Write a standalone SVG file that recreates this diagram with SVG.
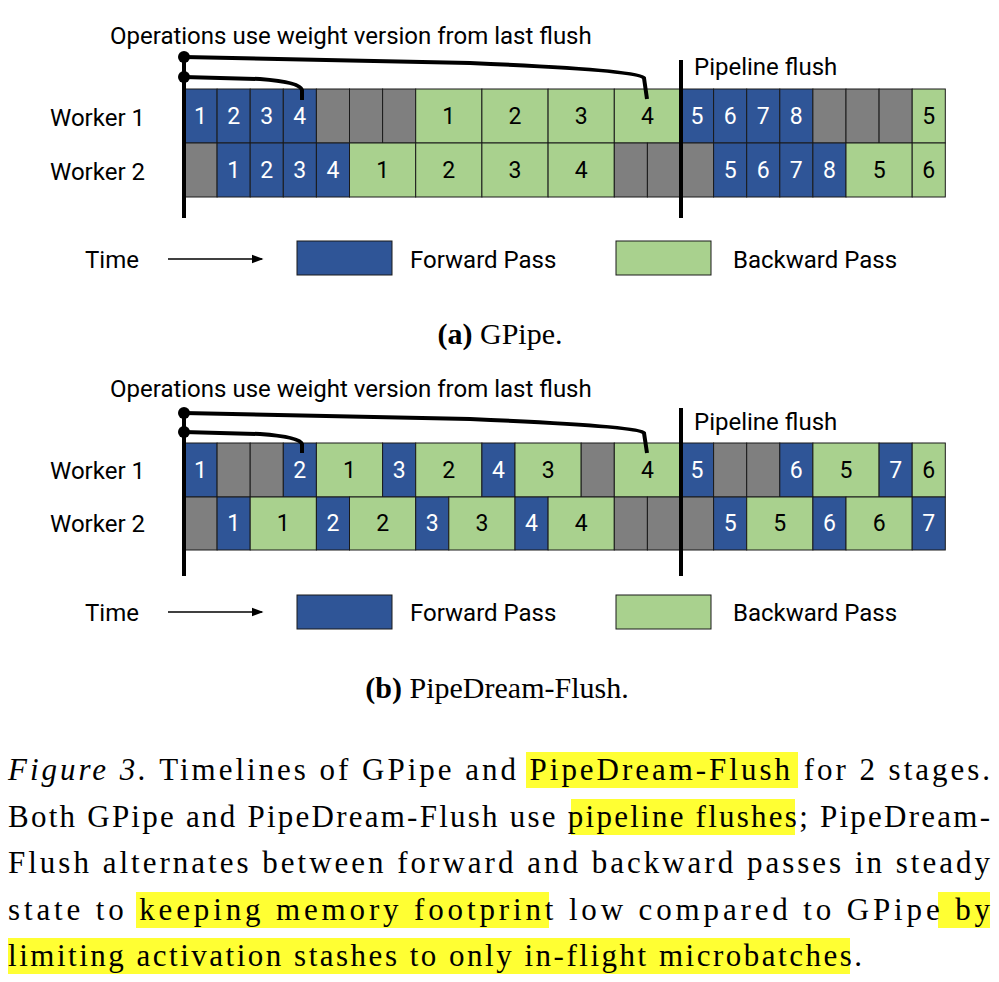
<svg xmlns="http://www.w3.org/2000/svg" width="999" height="982" viewBox="0 0 999 982">
<style>
.f{fill:#2f5597;stroke:#1a1a1a;stroke-width:1}
.b{fill:#a9d18e;stroke:#1a1a1a;stroke-width:1}
.g{fill:#7f7f7f;stroke:#1a1a1a;stroke-width:1}
.tf{font-family:Roboto,"Liberation Sans",sans-serif;font-size:23px;fill:#fff;text-anchor:middle}
.tb{font-family:Roboto,"Liberation Sans",sans-serif;font-size:23px;fill:#000;text-anchor:middle}
.lbl{font-family:Roboto,"Liberation Sans",sans-serif;font-size:24px;fill:#000}
.ln{stroke:#000;stroke-width:4;fill:none}
.cap{font-family:"Liberation Serif",serif;font-size:31px;fill:#000}
.hl{fill:#ffff33}
</style>
<defs><marker id="ar" markerWidth="8" markerHeight="8" refX="7" refY="4" orient="auto"><path d="M0,1 L8,4 L0,7 z" fill="#000"/></marker></defs>
<rect width="999" height="982" fill="#fff"/>

<g id="a-labels">
<text class="lbl" x="110" y="44">Operations use weight version from last flush</text>
<text class="lbl" x="694" y="75">Pipeline flush</text>
<text class="lbl" x="50" y="126">Worker 1</text>
<text class="lbl" x="50" y="180">Worker 2</text>
</g>
<g id="a-w1">
<rect class="f" x="184" y="89" width="33.1" height="54"/><text class="tf" x="200.5" y="124">1</text>
<rect class="f" x="217.1" y="89" width="33.1" height="54"/><text class="tf" x="233.6" y="124">2</text>
<rect class="f" x="250.2" y="89" width="33.1" height="54"/><text class="tf" x="266.7" y="124">3</text>
<rect class="f" x="283.3" y="89" width="33.1" height="54"/><text class="tf" x="299.8" y="124">4</text>
<rect class="g" x="316.4" y="89" width="33.1" height="54"/>
<rect class="g" x="349.5" y="89" width="33.1" height="54"/>
<rect class="g" x="382.6" y="89" width="33.1" height="54"/>
<rect class="b" x="415.7" y="89" width="66.2" height="54"/><text class="tb" x="448.8" y="124">1</text>
<rect class="b" x="481.9" y="89" width="66.2" height="54"/><text class="tb" x="515" y="124">2</text>
<rect class="b" x="548.1" y="89" width="66.2" height="54"/><text class="tb" x="581.2" y="124">3</text>
<rect class="b" x="614.3" y="89" width="66.2" height="54"/><text class="tb" x="647.4" y="124">4</text>
<rect class="f" x="680.5" y="89" width="33.1" height="54"/><text class="tf" x="697" y="124">5</text>
<rect class="f" x="713.6" y="89" width="33.1" height="54"/><text class="tf" x="730.1" y="124">6</text>
<rect class="f" x="746.7" y="89" width="33.1" height="54"/><text class="tf" x="763.2" y="124">7</text>
<rect class="f" x="779.8" y="89" width="33.1" height="54"/><text class="tf" x="796.3" y="124">8</text>
<rect class="g" x="812.9" y="89" width="33.1" height="54"/>
<rect class="g" x="846" y="89" width="33.1" height="54"/>
<rect class="g" x="879.1" y="89" width="33.1" height="54"/>
<rect class="b" x="912.2" y="89" width="33.1" height="54"/><text class="tb" x="928.7" y="124">5</text>
</g>
<g id="a-w2">
<rect class="g" x="184" y="143" width="33.1" height="54"/>
<rect class="f" x="217.1" y="143" width="33.1" height="54"/><text class="tf" x="233.6" y="178">1</text>
<rect class="f" x="250.2" y="143" width="33.1" height="54"/><text class="tf" x="266.7" y="178">2</text>
<rect class="f" x="283.3" y="143" width="33.1" height="54"/><text class="tf" x="299.8" y="178">3</text>
<rect class="f" x="316.4" y="143" width="33.1" height="54"/><text class="tf" x="332.9" y="178">4</text>
<rect class="b" x="349.5" y="143" width="66.2" height="54"/><text class="tb" x="382.6" y="178">1</text>
<rect class="b" x="415.7" y="143" width="66.2" height="54"/><text class="tb" x="448.8" y="178">2</text>
<rect class="b" x="481.9" y="143" width="66.2" height="54"/><text class="tb" x="515" y="178">3</text>
<rect class="b" x="548.1" y="143" width="66.2" height="54"/><text class="tb" x="581.2" y="178">4</text>
<rect class="g" x="614.3" y="143" width="33.1" height="54"/>
<rect class="g" x="647.4" y="143" width="33.1" height="54"/>
<rect class="g" x="680.5" y="143" width="33.1" height="54"/>
<rect class="f" x="713.6" y="143" width="33.1" height="54"/><text class="tf" x="730.1" y="178">5</text>
<rect class="f" x="746.7" y="143" width="33.1" height="54"/><text class="tf" x="763.2" y="178">6</text>
<rect class="f" x="779.8" y="143" width="33.1" height="54"/><text class="tf" x="796.3" y="178">7</text>
<rect class="f" x="812.9" y="143" width="33.1" height="54"/><text class="tf" x="829.4" y="178">8</text>
<rect class="b" x="846" y="143" width="66.2" height="54"/><text class="tb" x="879.1" y="178">5</text>
<rect class="b" x="912.2" y="143" width="33.1" height="54"/><text class="tb" x="928.7" y="178">6</text>
</g>
<g id="a-lines">
<path class="ln" d="M184,57 V218"/>
<path class="ln" d="M681,60 V218"/>
<path class="ln" d="M184,57 L470,63 Q640,70 644,78 L647,99"/>
<path class="ln" d="M184,77 L260,79 Q300,82 302,90 L302,100"/>
<circle cx="184" cy="57" r="6"/><circle cx="184" cy="77" r="6"/>
</g>
<g id="a-legend">
<text class="lbl" x="85" y="268">Time</text>
<path d="M168,259 H262" stroke="#000" stroke-width="1.5" marker-end="url(#ar)"/>
<rect class="f" x="297" y="241" width="95" height="34"/>
<text class="lbl" x="410" y="268">Forward Pass</text>
<rect class="b" x="616" y="241" width="95" height="34"/>
<text class="lbl" x="733" y="268">Backward Pass</text>
</g>
<text x="500" y="344" text-anchor="middle" class="cap" style="font-size:30px"><tspan font-weight="bold">(a)</tspan> GPipe.</text>

<g id="b-labels">
<text class="lbl" x="110" y="397">Operations use weight version from last flush</text>
<text class="lbl" x="694" y="430">Pipeline flush</text>
<text class="lbl" x="50" y="479">Worker 1</text>
<text class="lbl" x="50" y="532">Worker 2</text>
</g>
<g id="b-w1">
<rect class="f" x="184" y="443" width="33.1" height="54"/><text class="tf" x="200.5" y="478">1</text>
<rect class="g" x="217.1" y="443" width="33.1" height="54"/>
<rect class="g" x="250.2" y="443" width="33.1" height="54"/>
<rect class="f" x="283.3" y="443" width="33.1" height="54"/><text class="tf" x="299.8" y="478">2</text>
<rect class="b" x="316.4" y="443" width="66.2" height="54"/><text class="tb" x="349.5" y="478">1</text>
<rect class="f" x="382.6" y="443" width="33.1" height="54"/><text class="tf" x="399.1" y="478">3</text>
<rect class="b" x="415.7" y="443" width="66.2" height="54"/><text class="tb" x="448.8" y="478">2</text>
<rect class="f" x="481.9" y="443" width="33.1" height="54"/><text class="tf" x="498.4" y="478">4</text>
<rect class="b" x="515" y="443" width="66.2" height="54"/><text class="tb" x="548.1" y="478">3</text>
<rect class="g" x="581.2" y="443" width="33.1" height="54"/>
<rect class="b" x="614.3" y="443" width="66.2" height="54"/><text class="tb" x="647.4" y="478">4</text>
<rect class="f" x="680.5" y="443" width="33.1" height="54"/><text class="tf" x="697" y="478">5</text>
<rect class="g" x="713.6" y="443" width="33.1" height="54"/>
<rect class="g" x="746.7" y="443" width="33.1" height="54"/>
<rect class="f" x="779.8" y="443" width="33.1" height="54"/><text class="tf" x="796.3" y="478">6</text>
<rect class="b" x="812.9" y="443" width="66.2" height="54"/><text class="tb" x="846" y="478">5</text>
<rect class="f" x="879.1" y="443" width="33.1" height="54"/><text class="tf" x="895.6" y="478">7</text>
<rect class="b" x="912.2" y="443" width="33.1" height="54"/><text class="tb" x="928.7" y="478">6</text>
</g>
<g id="b-w2">
<rect class="g" x="184" y="497" width="33.1" height="53"/>
<rect class="f" x="217.1" y="497" width="33.1" height="53"/><text class="tf" x="233.6" y="531">1</text>
<rect class="b" x="250.2" y="497" width="66.2" height="53"/><text class="tb" x="283.3" y="531">1</text>
<rect class="f" x="316.4" y="497" width="33.1" height="53"/><text class="tf" x="332.9" y="531">2</text>
<rect class="b" x="349.5" y="497" width="66.2" height="53"/><text class="tb" x="382.6" y="531">2</text>
<rect class="f" x="415.7" y="497" width="33.1" height="53"/><text class="tf" x="432.2" y="531">3</text>
<rect class="b" x="448.8" y="497" width="66.2" height="53"/><text class="tb" x="481.9" y="531">3</text>
<rect class="f" x="515" y="497" width="33.1" height="53"/><text class="tf" x="531.5" y="531">4</text>
<rect class="b" x="548.1" y="497" width="66.2" height="53"/><text class="tb" x="581.2" y="531">4</text>
<rect class="g" x="614.3" y="497" width="33.1" height="53"/>
<rect class="g" x="647.4" y="497" width="33.1" height="53"/>
<rect class="g" x="680.5" y="497" width="33.1" height="53"/>
<rect class="f" x="713.6" y="497" width="33.1" height="53"/><text class="tf" x="730.1" y="531">5</text>
<rect class="b" x="746.7" y="497" width="66.2" height="53"/><text class="tb" x="779.8" y="531">5</text>
<rect class="f" x="812.9" y="497" width="33.1" height="53"/><text class="tf" x="829.4" y="531">6</text>
<rect class="b" x="846" y="497" width="66.2" height="53"/><text class="tb" x="879.1" y="531">6</text>
<rect class="f" x="912.2" y="497" width="33.1" height="53"/><text class="tf" x="928.7" y="531">7</text>
</g>
<g id="b-lines">
<path class="ln" d="M184,413 V576"/>
<path class="ln" d="M681,408 V576"/>
<path class="ln" d="M184,413 L470,419 Q640,426 644,433 L647,453"/>
<path class="ln" d="M184,432 L260,434 Q300,437 302,444 L302,453"/>
<circle cx="184" cy="413" r="6"/><circle cx="184" cy="432" r="6"/>
</g>
<g id="b-legend">
<text class="lbl" x="85" y="621">Time</text>
<path d="M168,612 H262" stroke="#000" stroke-width="1.5" marker-end="url(#ar)"/>
<rect class="f" x="297" y="595" width="95" height="34"/>
<text class="lbl" x="410" y="621">Forward Pass</text>
<rect class="b" x="616" y="595" width="95" height="34"/>
<text class="lbl" x="733" y="621">Backward Pass</text>
</g>
<text x="497" y="698" text-anchor="middle" class="cap" style="font-size:30px"><tspan font-weight="bold">(b)</tspan> PipeDream-Flush.</text>

<g id="caption">
<rect class="hl" x="526" y="752" width="272" height="36"/>
<rect class="hl" x="571" y="799" width="224" height="36"/>
<rect class="hl" x="136" y="892" width="413" height="36"/>
<rect class="hl" x="938" y="892" width="52" height="36"/>
<rect class="hl" x="8" y="938" width="842" height="36"/>
<text class="cap" x="8" y="780" textLength="982" lengthAdjust="spacing"><tspan font-style="italic">Figure 3.</tspan> Timelines of GPipe and PipeDream-Flush for 2 stages.</text>
<text class="cap" x="8" y="827" textLength="982" lengthAdjust="spacing">Both GPipe and PipeDream-Flush use pipeline flushes; PipeDream-</text>
<text class="cap" x="8" y="873" textLength="982" lengthAdjust="spacing">Flush alternates between forward and backward passes in steady</text>
<text class="cap" x="8" y="920" textLength="982" lengthAdjust="spacing">state to keeping memory footprint low compared to GPipe by</text>
<text class="cap" x="8" y="966" textLength="854" lengthAdjust="spacing">limiting activation stashes to only in-flight microbatches.</text>
</g>
</svg>
